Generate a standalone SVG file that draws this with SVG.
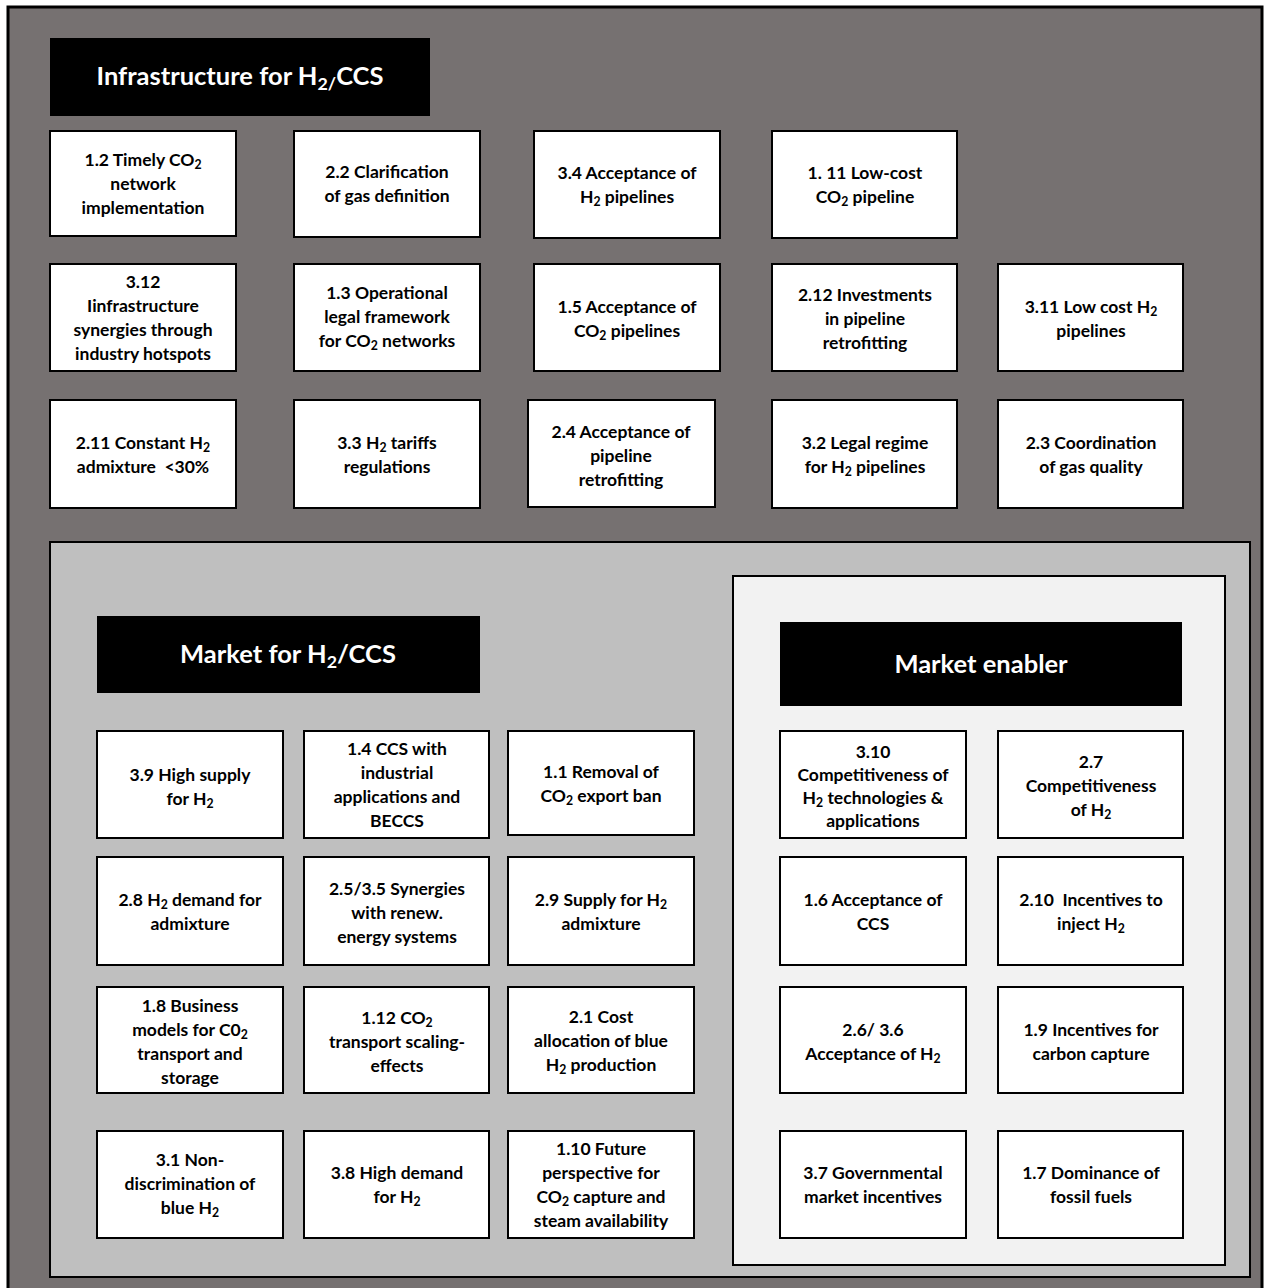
<svg xmlns="http://www.w3.org/2000/svg" width="1266" height="1288" viewBox="0 0 1266 1288">
<style>
.bg{fill:#767171;stroke:#000;stroke-width:3}
.panel{fill:#bfbfbf;stroke:#000;stroke-width:2}
.enab{fill:#f2f2f2;stroke:#000;stroke-width:2}
.box{fill:#fff;stroke:#000;stroke-width:2}
.hdr{fill:#000}
.t{font-family:Lato,"Open Sans","Liberation Sans",sans-serif;font-weight:700;font-size:17.5px;fill:#000;text-anchor:middle;white-space:pre}
.h{font-family:Lato,"Open Sans","Liberation Sans",sans-serif;font-weight:700;font-size:25.5px;fill:#fff;text-anchor:middle}
.s{font-size:70%;baseline-shift:-3px}
.h .s{baseline-shift:-5px}
</style>
<rect class="bg" x="8" y="7" width="1254" height="1290"/>
<rect class="panel" x="50" y="542" width="1200" height="735"/>
<rect class="enab" x="733" y="576" width="492" height="689"/>

<g id="hdr-infra"><rect class="hdr" x="50" y="38" width="380" height="78"/><text class="h" x="240" y="85">Infrastructure for H<tspan class="s">2/</tspan>CCS</text></g>
<g id="hdr-market"><rect class="hdr" x="97" y="616" width="383" height="77"/><text class="h" x="288" y="663">Market for H<tspan class="s">2</tspan>/CCS</text></g>
<g id="hdr-enabler"><rect class="hdr" x="780" y="622" width="402" height="84"/><text class="h" x="981" y="673">Market enabler</text></g>

<!-- Infrastructure row 1 -->
<g id="n1_2"><rect class="box" x="50" y="131" width="186" height="105"/><text class="t"><tspan x="143" y="166">1.2 Timely CO<tspan class="s">2</tspan></tspan><tspan x="143" y="190">network</tspan><tspan x="143" y="214">implementation</tspan></text></g>
<g id="n2_2"><rect class="box" x="294" y="131" width="186" height="106"/><text class="t"><tspan x="387" y="178">2.2 Clarification</tspan><tspan x="387" y="202">of gas definition</tspan></text></g>
<g id="n3_4"><rect class="box" x="534" y="131" width="186" height="107"/><text class="t"><tspan x="627" y="179">3.4 Acceptance of</tspan><tspan x="627" y="203">H<tspan class="s">2</tspan> pipelines</tspan></text></g>
<g id="n1_11"><rect class="box" x="772" y="131" width="185" height="107"/><text class="t"><tspan x="865" y="179">1. 11 Low-cost</tspan><tspan x="865" y="203">CO<tspan class="s">2</tspan> pipeline</tspan></text></g>

<!-- Infrastructure row 2 -->
<g id="n3_12"><rect class="box" x="50" y="264" width="186" height="107"/><text class="t"><tspan x="143" y="288">3.12</tspan><tspan x="143" y="312">Iinfrastructure</tspan><tspan x="143" y="336">synergies through</tspan><tspan x="143" y="360">industry hotspots</tspan></text></g>
<g id="n1_3"><rect class="box" x="294" y="264" width="186" height="107"/><text class="t"><tspan x="387" y="299">1.3 Operational</tspan><tspan x="387" y="323">legal framework</tspan><tspan x="387" y="347">for CO<tspan class="s">2</tspan> networks</tspan></text></g>
<g id="n1_5"><rect class="box" x="534" y="264" width="186" height="107"/><text class="t"><tspan x="627" y="313">1.5 Acceptance of</tspan><tspan x="627" y="337">CO<tspan class="s">2</tspan> pipelines</tspan></text></g>
<g id="n2_12"><rect class="box" x="772" y="264" width="185" height="107"/><text class="t"><tspan x="865" y="301">2.12 Investments</tspan><tspan x="865" y="325">in pipeline</tspan><tspan x="865" y="349">retrofitting</tspan></text></g>
<g id="n3_11"><rect class="box" x="998" y="264" width="185" height="107"/><text class="t"><tspan x="1091" y="313">3.11 Low cost H<tspan class="s">2</tspan></tspan><tspan x="1091" y="337">pipelines</tspan></text></g>

<!-- Infrastructure row 3 -->
<g id="n2_11"><rect class="box" x="50" y="400" width="186" height="108"/><text class="t"><tspan x="143" y="449">2.11 Constant H<tspan class="s">2</tspan></tspan><tspan x="143" y="473">admixture  &lt;30%</tspan></text></g>
<g id="n3_3"><rect class="box" x="294" y="400" width="186" height="108"/><text class="t"><tspan x="387" y="449">3.3 H<tspan class="s">2</tspan> tariffs</tspan><tspan x="387" y="473">regulations</tspan></text></g>
<g id="n2_4"><rect class="box" x="528" y="400" width="187" height="107"/><text class="t"><tspan x="621" y="438">2.4 Acceptance of</tspan><tspan x="621" y="462">pipeline</tspan><tspan x="621" y="486">retrofitting</tspan></text></g>
<g id="n3_2"><rect class="box" x="772" y="400" width="185" height="108"/><text class="t"><tspan x="865" y="449">3.2 Legal regime</tspan><tspan x="865" y="473">for H<tspan class="s">2</tspan> pipelines</tspan></text></g>
<g id="n2_3"><rect class="box" x="998" y="400" width="185" height="108"/><text class="t"><tspan x="1091" y="449">2.3 Coordination</tspan><tspan x="1091" y="473">of gas quality</tspan></text></g>

<!-- Market row 1 -->
<g id="n3_9"><rect class="box" x="97" y="731" width="186" height="107"/><text class="t"><tspan x="190" y="781">3.9 High supply</tspan><tspan x="190" y="805">for H<tspan class="s">2</tspan></tspan></text></g>
<g id="n1_4"><rect class="box" x="304" y="731" width="185" height="107"/><text class="t"><tspan x="397" y="755">1.4 CCS with</tspan><tspan x="397" y="779">industrial</tspan><tspan x="397" y="803">applications and</tspan><tspan x="397" y="827">BECCS</tspan></text></g>
<g id="n1_1"><rect class="box" x="508" y="731" width="186" height="104"/><text class="t"><tspan x="601" y="778">1.1 Removal of</tspan><tspan x="601" y="802">CO<tspan class="s">2</tspan> export ban</tspan></text></g>

<!-- Market row 2 -->
<g id="n2_8"><rect class="box" x="97" y="857" width="186" height="108"/><text class="t"><tspan x="190" y="906">2.8 H<tspan class="s">2</tspan> demand for</tspan><tspan x="190" y="930">admixture</tspan></text></g>
<g id="n2_5"><rect class="box" x="304" y="857" width="185" height="108"/><text class="t"><tspan x="397" y="895">2.5/3.5 Synergies</tspan><tspan x="397" y="919">with renew.</tspan><tspan x="397" y="943">energy systems</tspan></text></g>
<g id="n2_9"><rect class="box" x="508" y="857" width="186" height="108"/><text class="t"><tspan x="601" y="906">2.9 Supply for H<tspan class="s">2</tspan></tspan><tspan x="601" y="930">admixture</tspan></text></g>

<!-- Market row 3 -->
<g id="n1_8"><rect class="box" x="97" y="987" width="186" height="106"/><text class="t"><tspan x="190" y="1012">1.8 Business</tspan><tspan x="190" y="1036">models for C0<tspan class="s">2</tspan></tspan><tspan x="190" y="1060">transport and</tspan><tspan x="190" y="1084">storage</tspan></text></g>
<g id="n1_12"><rect class="box" x="304" y="987" width="185" height="106"/><text class="t"><tspan x="397" y="1024">1.12 CO<tspan class="s">2</tspan></tspan><tspan x="397" y="1048">transport scaling-</tspan><tspan x="397" y="1072">effects</tspan></text></g>
<g id="n2_1"><rect class="box" x="508" y="987" width="186" height="106"/><text class="t"><tspan x="601" y="1023">2.1 Cost</tspan><tspan x="601" y="1047">allocation of blue</tspan><tspan x="601" y="1071">H<tspan class="s">2</tspan> production</tspan></text></g>

<!-- Market row 4 -->
<g id="n3_1"><rect class="box" x="97" y="1131" width="186" height="107"/><text class="t"><tspan x="190" y="1166">3.1 Non-</tspan><tspan x="190" y="1190">discrimination of</tspan><tspan x="190" y="1214">blue H<tspan class="s">2</tspan></tspan></text></g>
<g id="n3_8"><rect class="box" x="304" y="1131" width="185" height="107"/><text class="t"><tspan x="397" y="1179">3.8 High demand</tspan><tspan x="397" y="1203">for H<tspan class="s">2</tspan></tspan></text></g>
<g id="n1_10"><rect class="box" x="508" y="1131" width="186" height="107"/><text class="t"><tspan x="601" y="1155">1.10 Future</tspan><tspan x="601" y="1179">perspective for</tspan><tspan x="601" y="1203">CO<tspan class="s">2</tspan> capture and</tspan><tspan x="601" y="1227">steam availability</tspan></text></g>

<!-- Market enabler -->
<g id="n3_10"><rect class="box" x="780" y="731" width="186" height="107"/><text class="t"><tspan x="873" y="758">3.10</tspan><tspan x="873" y="781">Competitiveness of</tspan><tspan x="873" y="804">H<tspan class="s">2</tspan> technologies &amp;</tspan><tspan x="873" y="827">applications</tspan></text></g>
<g id="n2_7"><rect class="box" x="998" y="731" width="185" height="107"/><text class="t"><tspan x="1091" y="768">2.7</tspan><tspan x="1091" y="792">Competitiveness</tspan><tspan x="1091" y="816">of H<tspan class="s">2</tspan></tspan></text></g>
<g id="n1_6"><rect class="box" x="780" y="857" width="186" height="108"/><text class="t"><tspan x="873" y="906">1.6 Acceptance of</tspan><tspan x="873" y="930">CCS</tspan></text></g>
<g id="n2_10"><rect class="box" x="998" y="857" width="185" height="108"/><text class="t"><tspan x="1091" y="906">2.10  Incentives to</tspan><tspan x="1091" y="930">inject H<tspan class="s">2</tspan></tspan></text></g>
<g id="n2_6"><rect class="box" x="780" y="987" width="186" height="106"/><text class="t"><tspan x="873" y="1036">2.6/ 3.6</tspan><tspan x="873" y="1060">Acceptance of H<tspan class="s">2</tspan></tspan></text></g>
<g id="n1_9"><rect class="box" x="998" y="987" width="185" height="106"/><text class="t"><tspan x="1091" y="1036">1.9 Incentives for</tspan><tspan x="1091" y="1060">carbon capture</tspan></text></g>
<g id="n3_7"><rect class="box" x="780" y="1131" width="186" height="107"/><text class="t"><tspan x="873" y="1179">3.7 Governmental</tspan><tspan x="873" y="1203">market incentives</tspan></text></g>
<g id="n1_7"><rect class="box" x="998" y="1131" width="185" height="107"/><text class="t"><tspan x="1091" y="1179">1.7 Dominance of</tspan><tspan x="1091" y="1203">fossil fuels</tspan></text></g>

<g id="connectors"></g>
</svg>
